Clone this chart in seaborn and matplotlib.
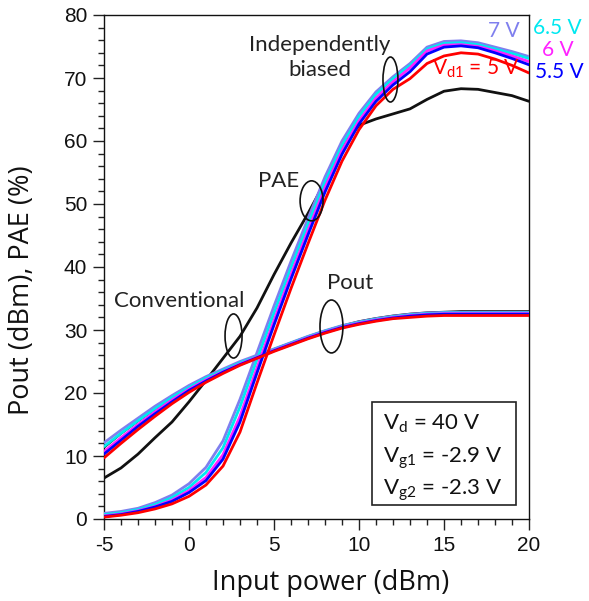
import numpy as np
import pandas as pd
import matplotlib
matplotlib.use("Agg")
import matplotlib.pyplot as plt
import seaborn as sns
from matplotlib.patches import Ellipse, Rectangle
from matplotlib.ticker import MultipleLocator

# ---------------- data ----------------
pin = [-5, -4, -3, -2, -1, 0, 1, 2, 3, 4, 5, 6, 7, 8, 9, 10, 11, 12, 13, 14, 15, 16, 17, 18, 19, 20]

vd1_labels = ["7 V", "6.5 V", "6 V", "5.5 V", "5 V"]
vd1_colors = ["#7f7fee", "#00e8f0", "#ff22ff", "#0000ff", "#ff0000"]

pout_7v = [12.1, 14.1, 16.0, 17.9, 19.6, 21.2, 22.6, 23.8, 25.0, 26.0, 27.0, 28.0, 29.0, 29.9, 30.7, 31.3, 31.8, 32.2, 32.5, 32.7, 32.8, 32.8, 32.8, 32.8, 32.8, 32.8]
pout_65v = [11.5, 13.6, 15.6, 17.5, 19.3, 20.9, 22.4, 23.6, 24.8, 25.8, 26.9, 27.9, 28.9, 29.8, 30.6, 31.2, 31.7, 32.1, 32.4, 32.6, 32.7, 32.7, 32.7, 32.7, 32.7, 32.7]
pout_6v = [10.7, 12.9, 15.0, 17.0, 18.9, 20.6, 22.1, 23.4, 24.6, 25.7, 26.8, 27.8, 28.8, 29.7, 30.5, 31.1, 31.6, 32.0, 32.3, 32.5, 32.6, 32.6, 32.6, 32.6, 32.6, 32.6]
pout_55v = [10.3, 12.5, 14.7, 16.7, 18.6, 20.4, 21.9, 23.3, 24.5, 25.6, 26.7, 27.7, 28.7, 29.6, 30.4, 31.0, 31.5, 31.9, 32.2, 32.4, 32.5, 32.5, 32.5, 32.5, 32.5, 32.5]
pout_5v = [9.7, 12.0, 14.2, 16.3, 18.3, 20.1, 21.7, 23.1, 24.4, 25.5, 26.6, 27.6, 28.6, 29.5, 30.3, 30.9, 31.4, 31.8, 32.0, 32.2, 32.3, 32.3, 32.3, 32.3, 32.3, 32.3]
pout_conv = [11.3, 13.5, 15.5, 17.4, 19.2, 20.8, 22.3, 23.6, 24.8, 25.9, 27.0, 28.0, 29.0, 29.9, 30.7, 31.4, 31.9, 32.3, 32.6, 32.8, 32.9, 33.0, 33.0, 33.0, 33.0, 33.0]

pae_7v = [0.9, 1.2, 1.7, 2.6, 3.8, 5.6, 8.2, 12.4, 19.0, 26.4, 33.8, 40.9, 47.7, 54.3, 60.0, 64.4, 67.8, 70.2, 72.3, 74.9, 75.8, 75.9, 75.6, 74.9, 74.2, 73.4]
pae_65v = [0.7, 1.0, 1.5, 2.3, 3.4, 5.0, 7.4, 11.3, 17.8, 25.3, 32.7, 39.9, 46.8, 53.5, 59.3, 63.9, 67.4, 69.9, 72.0, 74.6, 75.5, 75.6, 75.3, 74.6, 73.9, 73.1]
pae_6v = [0.5, 0.8, 1.3, 2.0, 3.0, 4.5, 6.6, 10.2, 16.3, 24.0, 31.5, 38.8, 45.8, 52.6, 58.5, 63.2, 66.8, 69.4, 71.6, 74.3, 75.2, 75.3, 75.0, 74.3, 73.5, 72.6]
pae_55v = [0.4, 0.7, 1.2, 1.9, 2.8, 4.2, 6.1, 9.5, 15.4, 23.2, 30.8, 38.1, 45.1, 51.9, 57.9, 62.7, 66.3, 68.9, 71.0, 73.8, 74.9, 75.1, 74.8, 74.0, 73.1, 72.1]
pae_5v = [0.3, 0.6, 1.0, 1.6, 2.4, 3.6, 5.4, 8.4, 13.8, 21.6, 29.2, 36.6, 43.7, 50.6, 56.8, 61.8, 65.6, 68.2, 69.9, 72.3, 73.5, 74.0, 73.8, 73.0, 72.0, 70.8]
pae_conv = [6.5, 8.1, 10.3, 12.9, 15.4, 18.6, 22.0, 25.5, 29.0, 33.5, 38.8, 43.8, 48.5, 53.5, 59.0, 62.5, 63.5, 64.3, 65.1, 66.6, 67.9, 68.3, 68.2, 67.7, 67.2, 66.3]

pout_sets = [pout_7v, pout_65v, pout_6v, pout_55v, pout_5v]
pae_sets = [pae_7v, pae_65v, pae_6v, pae_55v, pae_5v]

# ---------------- style ----------------
sns.set_theme(style="ticks")
plt.rcParams["font.family"] = ["Liberation Sans", "DejaVu Sans"]
plt.rcParams["axes.unicode_minus"] = False
plt.rcParams["mathtext.fontset"] = "custom"
plt.rcParams["mathtext.rm"] = "Lato"
plt.rcParams["mathtext.it"] = "Lato"

fig = plt.figure(figsize=(5.89, 6.01), dpi=100)
ax = fig.add_axes([104 / 589, 1 - 519 / 601, 425 / 589, 504 / 601])

# conventional (black) first, underneath
sns.lineplot(x=pin, y=pout_conv, ax=ax, color="#111111", lw=1.3, zorder=2)
sns.lineplot(x=pin, y=pae_conv, ax=ax, color="#111111", lw=2.0, zorder=2)

for lab, col, po, pa in zip(vd1_labels, vd1_colors, pout_sets, pae_sets):
    sns.lineplot(x=pin, y=po, ax=ax, color=col, lw=2.0, zorder=3)
    sns.lineplot(x=pin, y=pa, ax=ax, color=col, lw=2.0, zorder=3)

ax.set_xlim(-5, 20)
ax.set_ylim(0, 80)
ax.xaxis.set_major_locator(MultipleLocator(5))
ax.xaxis.set_minor_locator(MultipleLocator(1))
ax.yaxis.set_major_locator(MultipleLocator(10))
ax.yaxis.set_minor_locator(MultipleLocator(2))
ax.tick_params(which="major", direction="out", length=8, width=1, color="#222222",
               labelsize=15, labelcolor="#111111", pad=4)
ax.tick_params(which="minor", direction="out", length=4.5, width=1, color="#222222")
for s in ax.spines.values():
    s.set_visible(True)
    s.set_color("#111111")
    s.set_linewidth(1.0)

ax.set_xlabel("Input power (dBm)", fontsize=19.5, family="Open Sans", color="#111111")
ax.set_ylabel("Pout (dBm), PAE (%)", fontsize=19.5, family="Open Sans", color="#111111")
ax.xaxis.set_label_coords(0.534, -0.099)
ax.yaxis.set_label_coords(-0.16, 0.454)

# ---------------- annotations ----------------
afont = dict(family="Lato", fontsize=16, color="#222222")
ax.text(7.71, 73.25, "Independently\nbiased", ha="center", va="center", linespacing=1.35, **afont)
ax.text(5.24, 53.65, "PAE", ha="center", va="center", **afont)
ax.text(-0.56, 34.6, "Conventional", ha="center", va="center", **afont)
ax.text(9.47, 37.46, "Pout", ha="center", va="center", **afont)

for (cx, cy, w, h) in [(11.85, 69.76, 0.88, 7.14), (7.21, 50.5, 1.35, 6.35),
                       (2.62, 29.05, 1.0, 7.0), (8.38, 30.56, 1.35, 8.4)]:
    ax.add_patch(Ellipse((cx, cy), w, h, fill=False, ec="#111111", lw=1.2, zorder=5))

# colored Vd1 labels
vfont = dict(family="Lato", fontsize=15)
ax.text(18.53, 77.4, "7 V", ha="center", va="center", color=vd1_colors[0], clip_on=False, **vfont)
ax.text(21.65, 77.9, "6.5 V", ha="center", va="center", color=vd1_colors[1], clip_on=False, **vfont)
ax.text(21.7, 74.4, "6 V", ha="center", va="center", color=vd1_colors[2], clip_on=False, **vfont)
ax.text(21.8, 71.0, "5.5 V", ha="center", va="center", color=vd1_colors[3], clip_on=False, **vfont)
ax.text(14.3, 70.5, r"V$_{\mathregular{d1}}$ = 5 V", ha="left", va="baseline",
        color=vd1_colors[4], **vfont)

# bias box
ax.add_patch(Rectangle((0.631, 0.0278), 0.969 - 0.631, 0.232 - 0.0278, transform=ax.transAxes,
                       fill=True, fc="white", ec="#222222", lw=1.2, zorder=6))
bfont = dict(family="Lato", fontsize=16, color="#111111", zorder=7)
ax.text(0.656, 0.1766, r"V$_{\mathregular{d}}$ = 40 V", transform=ax.transAxes, ha="left", va="baseline", **bfont)
ax.text(0.656, 0.111, r"V$_{\mathregular{g1}}$ = -2.9 V", transform=ax.transAxes, ha="left", va="baseline", **bfont)
ax.text(0.656, 0.0476, r"V$_{\mathregular{g2}}$ = -2.3 V", transform=ax.transAxes, ha="left", va="baseline", **bfont)

fig.savefig("out.png", dpi=100)
